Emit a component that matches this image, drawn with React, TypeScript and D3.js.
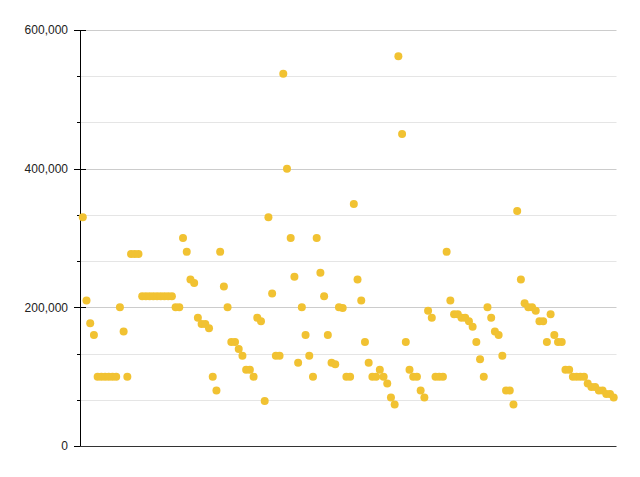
import React from 'react'
import * as d3 from 'd3'

// values, left to right
const values: number[] = [
  330000, 210000, 177000, 160000,
  100000, 100000, 100000, 100000, 100000, 100000,
  200000, 165000, 100000,
  277000, 277000, 277000,
  216000, 216000, 216000, 216000, 216000, 216000, 216000, 216000, 216000,
  200000, 200000,
  300000, 280000, 240000, 235000, 185000, 176000, 176000, 170000, 100000, 80000,
  280000, 230000, 200000, 150000, 150000, 140000, 130000, 110000, 110000, 100000,
  185000, 180000, 65000, 330000, 220000, 130000, 130000, 537000, 400000, 300000,
  244000, 120000, 200000, 160000, 130000, 100000, 300000, 250000, 216000, 160000,
  120000, 118000, 200000, 199000, 100000, 100000, 349000, 240000, 210000, 150000,
  120000, 100000, 100000, 110000, 100000, 90000, 70000, 60000, 562000, 450000,
  150000, 110000, 100000, 100000, 80000, 70000, 195000, 185000, 100000, 100000,
  100000, 280000, 210000, 190000, 190000, 185000, 185000, 180000, 172000, 150000,
  125000, 100000, 200000, 185000, 165000, 160000, 130000, 80000, 80000, 60000,
  339000, 240000, 206000, 200000, 200000, 195000, 180000, 180000, 150000, 190000,
  160000, 150000, 150000, 110000, 110000, 100000, 100000, 100000, 100000,
  90000, 85000, 85000, 80000, 80000, 75000, 75000, 70000,
]

const majorTicks = [0, 200000, 400000, 600000]
const gridCount = 9
const yMax = 600000

const W = 640
const H = 477
const left = 80
const right = 616.5
const top = 30
const bottom = 446

export default function App() {
  const x = d3
    .scalePoint<number>()
    .domain(d3.range(values.length))
    .range([left, right])
    .padding(0.75)

  const y = d3.scaleLinear().domain([0, yMax]).range([bottom, top])

  const gridValues = d3.range(gridCount + 1).map(i => (yMax / gridCount) * i)
  const isMajor = (v: number) => majorTicks.some(t => Math.abs(t - v) < 1)
  const fmt = d3.format(',')

  return (
    <svg
      width={W}
      height={H}
      style={{ position: 'absolute', left: 0, top: 0, background: '#fff' }}
      fontFamily="'Liberation Sans', Arial, sans-serif"
    >
      {/* grid lines */}
      {gridValues
        .filter(v => v > 0)
        .map((v, i) => (
          <line
            key={'g' + i}
            x1={left}
            x2={right}
            y1={Math.round(y(v)) + 0.5}
            y2={Math.round(y(v)) + 0.5}
            stroke={isMajor(v) ? '#cccccc' : '#e5e5e5'}
            strokeWidth={1}
          />
        ))}

      {/* ticks */}
      {gridValues.map((v, i) => (
        <line
          key={'t' + i}
          x1={isMajor(v) ? left - 6 : left - 3}
          x2={isMajor(v) ? left + 6 : left + 1}
          y1={Math.round(y(v)) + 0.5}
          y2={Math.round(y(v)) + 0.5}
          stroke="#000"
          strokeWidth={1}
        />
      ))}

      {/* tick labels */}
      {majorTicks.map(v => (
        <text
          key={'l' + v}
          x={68}
          y={y(v)}
          dy="0.35em"
          textAnchor="end"
          fontSize={12}
          fill="#222"
        >
          {fmt(v)}
        </text>
      ))}

      {/* axes */}
      <line x1={left + 0.5} x2={left + 0.5} y1={top} y2={bottom + 0.5} stroke="#000" strokeWidth={1} />
      <line x1={left} x2={right} y1={bottom + 0.5} y2={bottom + 0.5} stroke="#333" strokeWidth={1} />

      {/* points */}
      {values.map((v, i) => (
        <circle key={'p' + i} cx={x(i)} cy={y(v)} r={4} fill="#f1c232" />
      ))}
    </svg>
  )
}
